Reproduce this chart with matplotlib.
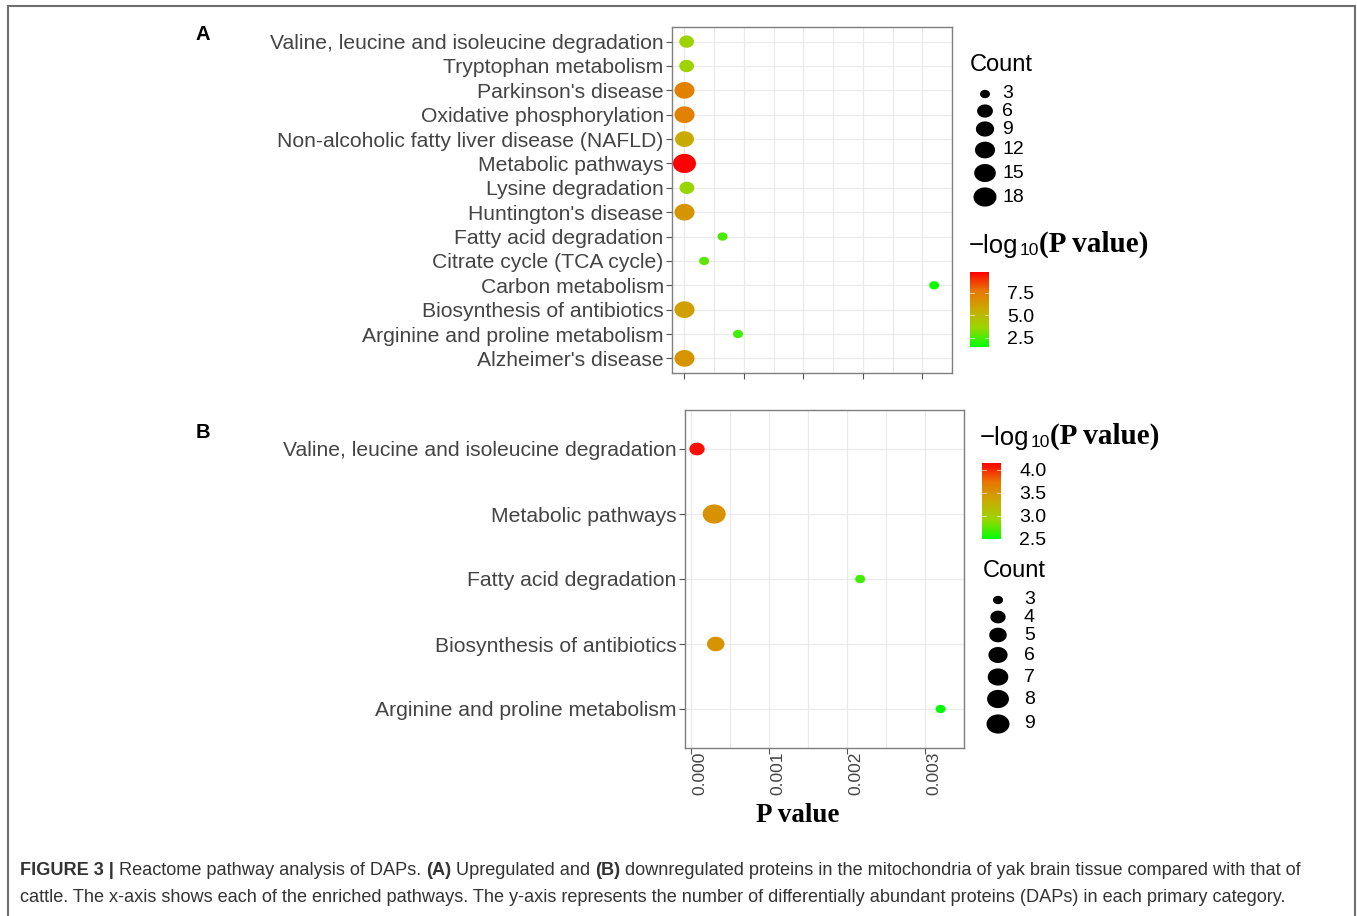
import numpy as np
import matplotlib
matplotlib.use("Agg")
import matplotlib.pyplot as plt
import matplotlib.transforms as mtrans
from matplotlib.colors import LinearSegmentedColormap, Normalize
from matplotlib.path import Path
from matplotlib.colorbar import ColorbarBase

plt.rcParams['font.family'] = ['Liberation Sans', 'DejaVu Sans']

# ---- panel A (upregulated) ----
a_terms = ["Alzheimer's disease", "Arginine and proline metabolism", "Biosynthesis of antibiotics",
           "Carbon metabolism", "Citrate cycle (TCA cycle)", "Fatty acid degradation",
           "Huntington's disease", "Lysine degradation", "Metabolic pathways",
           "Non-alcoholic fatty liver disease (NAFLD)", "Oxidative phosphorylation",
           "Parkinson's disease", "Tryptophan metabolism", "Valine, leucine and isoleucine degradation"]
a_pval = [3e-7, 0.0045, 8e-7, 0.021, 0.00165, 0.0032,
          3e-7, 2e-4, 1.5e-10, 2.2e-6, 5e-8, 5e-8, 1.8e-4, 1.8e-4]
a_count = [12, 3, 12, 3, 3, 3, 12, 5, 18, 10, 12, 12, 5, 5]
a_xticks = [0, 0.005, 0.01, 0.015, 0.02]
a_size_legend = [3, 6, 9, 12, 15, 18]
a_cbar_ticks = [2.5, 5.0, 7.5]

# ---- panel B (downregulated) ----
b_terms = ["Arginine and proline metabolism", "Biosynthesis of antibiotics",
           "Fatty acid degradation", "Metabolic pathways",
           "Valine, leucine and isoleucine degradation"]
b_pval = [0.0032, 0.00032, 0.00217, 0.0003, 0.00008]
b_count = [3, 5, 3, 9, 4]
b_xticks = [0.0, 0.001, 0.002, 0.003]
b_size_legend = [3, 4, 5, 6, 7, 8, 9]
b_cbar_ticks = [2.5, 3.0, 3.5, 4.0]

# green -> red, interpolated in Lab like ggplot
cmap = LinearSegmentedColormap.from_list(
    "gr", ["#00ff00", "#98d700", "#c9ab00", "#e87600", "#ff0000"])

# slightly wide ellipse, like the stretched original
t = np.linspace(0, 2 * np.pi, 60)
ell = Path(np.column_stack([1.2 * np.cos(t), np.sin(t)]), closed=True)

TXT = "#444444"


def size_of(c, cmin, cmax, dmin, dmax):
    # ggplot area scale: diameter grows with sqrt of rescaled count; px -> pt
    d = dmin + (dmax - dmin) * np.sqrt((c - cmin) / (cmax - cmin))
    return (d * 0.72) ** 2


fig = plt.figure(figsize=(13.57, 9.16), dpi=100)

# frame
fig.add_artist(plt.Rectangle((8 / 1357, -0.01), 1347 / 1357, 1 - 6 / 916 + 0.01,
                             transform=fig.transFigure, fill=False,
                             edgecolor="#6e6e6e", lw=1.5))


def panel(rect, terms, pval, count, xlim, xticks, vmin, vmax, cmin, cmax, dmin, dmax, ticklabels):
    ax = fig.add_axes(rect)
    y = np.arange(1, len(terms) + 1)
    lp = -np.log10(pval)
    ax.scatter(pval, y, s=[size_of(c, cmin, cmax, dmin, dmax) for c in count],
               c=lp, cmap=cmap, vmin=vmin, vmax=vmax, marker=ell, linewidths=0, zorder=3)
    ax.set_xlim(*xlim)
    ax.set_ylim(0.4, len(terms) + 0.6)
    ax.set_yticks(y)
    ax.set_yticklabels(terms, fontsize=15.2, color=TXT)
    ax.set_xticks(xticks)
    ax.set_xticks([(xticks[i] + xticks[i + 1]) / 2 for i in range(len(xticks) - 1)]
                  + [xticks[-1] + (xticks[1] - xticks[0]) / 2], minor=True)
    ax.tick_params(axis="x", which="minor", length=0)
    ax.tick_params(axis="both", which="major", length=4, color="#555555", width=0.8, pad=2)
    if ticklabels:
        ax.set_xticklabels(["%.3f" % v for v in xticks], rotation=90, fontsize=12.5, color=TXT)
        ax.tick_params(axis="x", pad=0)
        off = mtrans.ScaledTranslation(9 / 100, 2 / 100, fig.dpi_scale_trans)
        for lab in ax.get_xticklabels():
            lab.set_transform(lab.get_transform() + off)
    else:
        ax.set_xticklabels([])
    ax.grid(True, which="both", color="#ebebeb", lw=0.9)
    ax.set_axisbelow(True)
    for s in ax.spines.values():
        s.set_color("#7f7f7f")
        s.set_linewidth(1.0)
    return ax


axA = panel([672 / 1357, 1 - 373 / 916, 280 / 1357, 346 / 916], a_terms, a_pval, a_count,
            (-0.00105, 0.022), a_xticks, 1.5, 9.8, 3, 18, 10, 23, False)
axB = panel([685 / 1357, 1 - 748 / 916, 279 / 1357, 338 / 916], b_terms, b_pval, b_count,
            (-0.0000737, 0.003354), b_xticks, 2.49, 4.15, 3, 9, 10, 23, True)


def px(x, y):
    return (x / 1357, 1 - y / 916)


fig.text(*px(798, 816), "P value", fontsize=19.5, fontweight="bold", family="Liberation Serif",
         ha="center", va="center")
fig.text(*px(203, 35), "A", fontsize=14.5, fontweight="bold", ha="center", va="center")
fig.text(*px(203, 432), "B", fontsize=14.5, fontweight="bold", ha="center", va="center")


def log_title(x, y):
    t1 = fig.text(*px(x, y), "\u2212log", fontsize=18.5, va="baseline", color="black")
    a2 = fig.add_artist(plt.Annotation("10", xy=(1, 0), xycoords=t1, xytext=(0.5, 0),
                                       textcoords="offset points", fontsize=12.5,
                                       va="bottom", ha="left"))
    fig.add_artist(plt.Annotation("(P value)", xy=(1, 0), xycoords=a2, xytext=(0.5, 0),
                                  textcoords="offset points", fontsize=21, fontweight="bold",
                                  family="Liberation Serif", va="bottom", ha="left"))


def size_legend(title_xy, dot_x, lab_x, ys, vals, cmin, cmax, dmin, dmax):
    fig.text(*px(*title_xy), "Count", fontsize=17, va="center", color="black")
    lax = fig.add_axes([0, 0, 1, 1], facecolor="none")
    lax.set_xlim(0, 1357)
    lax.set_ylim(916, 0)
    lax.axis("off")
    lax.scatter([dot_x] * len(vals), ys, s=[size_of(v, cmin, cmax, dmin, dmax) for v in vals],
                c="black", marker=ell, linewidths=0)
    for yy, v in zip(ys, vals):
        lax.text(lab_x, yy, str(v), fontsize=14, va="center", color="black")


def cbar(x0, y0, x1, y1, vmin, vmax, ticks):
    cax = fig.add_axes([x0 / 1357, 1 - y1 / 916, (x1 - x0) / 1357, (y1 - y0) / 916])
    cb = ColorbarBase(cax, cmap=cmap, norm=Normalize(vmin, vmax), orientation="vertical")
    cb.outline.set_visible(False)
    cb.set_ticks(ticks)
    cb.set_ticklabels(["%.1f" % v for v in ticks])
    cax.tick_params(length=0, labelsize=14, pad=13, labelcolor="black")
    for v in ticks:
        cax.axhline(v, xmin=0, xmax=0.2, color="white", lw=0.6, alpha=0.7)
        cax.axhline(v, xmin=0.8, xmax=1, color="white", lw=0.6, alpha=0.7)


# legends panel A
size_legend((970, 65), 985, 1002, [94, 111, 129, 150, 173, 197], a_size_legend, 3, 18, 10, 23)
log_title(969, 253)
cbar(970, 272, 989, 347, 1.5, 9.8, a_cbar_ticks)

# legends panel B
log_title(980, 445)
cbar(982, 463, 1001, 539, 2.49, 4.15, b_cbar_ticks)
size_legend((983, 571), 998, 1024, [600, 617, 635, 655, 677, 699, 724], b_size_legend, 3, 9, 10, 23)

# caption
CAP = "#333333"
c1 = fig.text(*px(20, 875), "FIGURE 3 |", fontsize=13.1, fontweight="bold", color=CAP, va="baseline")
parts = [(" Reactome pathway analysis of DAPs. ", "normal"), ("(A)", "bold"),
         (" Upregulated and ", "normal"), ("(B)", "bold"),
         (" downregulated proteins in the mitochondria of yak brain tissue compared with that of", "normal")]
prev = c1
for txt, w in parts:
    prev = fig.add_artist(plt.Annotation(txt, xy=(1, 0), xycoords=prev, fontsize=13.1,
                                         fontweight=w, color=CAP, va="bottom", ha="left"))
fig.text(*px(20, 902), "cattle. The x-axis shows each of the enriched pathways. The y-axis represents "
         "the number of differentially abundant proteins (DAPs) in each primary category.",
         fontsize=13.1, color=CAP, va="baseline")

fig.savefig("out.png", dpi=100)
